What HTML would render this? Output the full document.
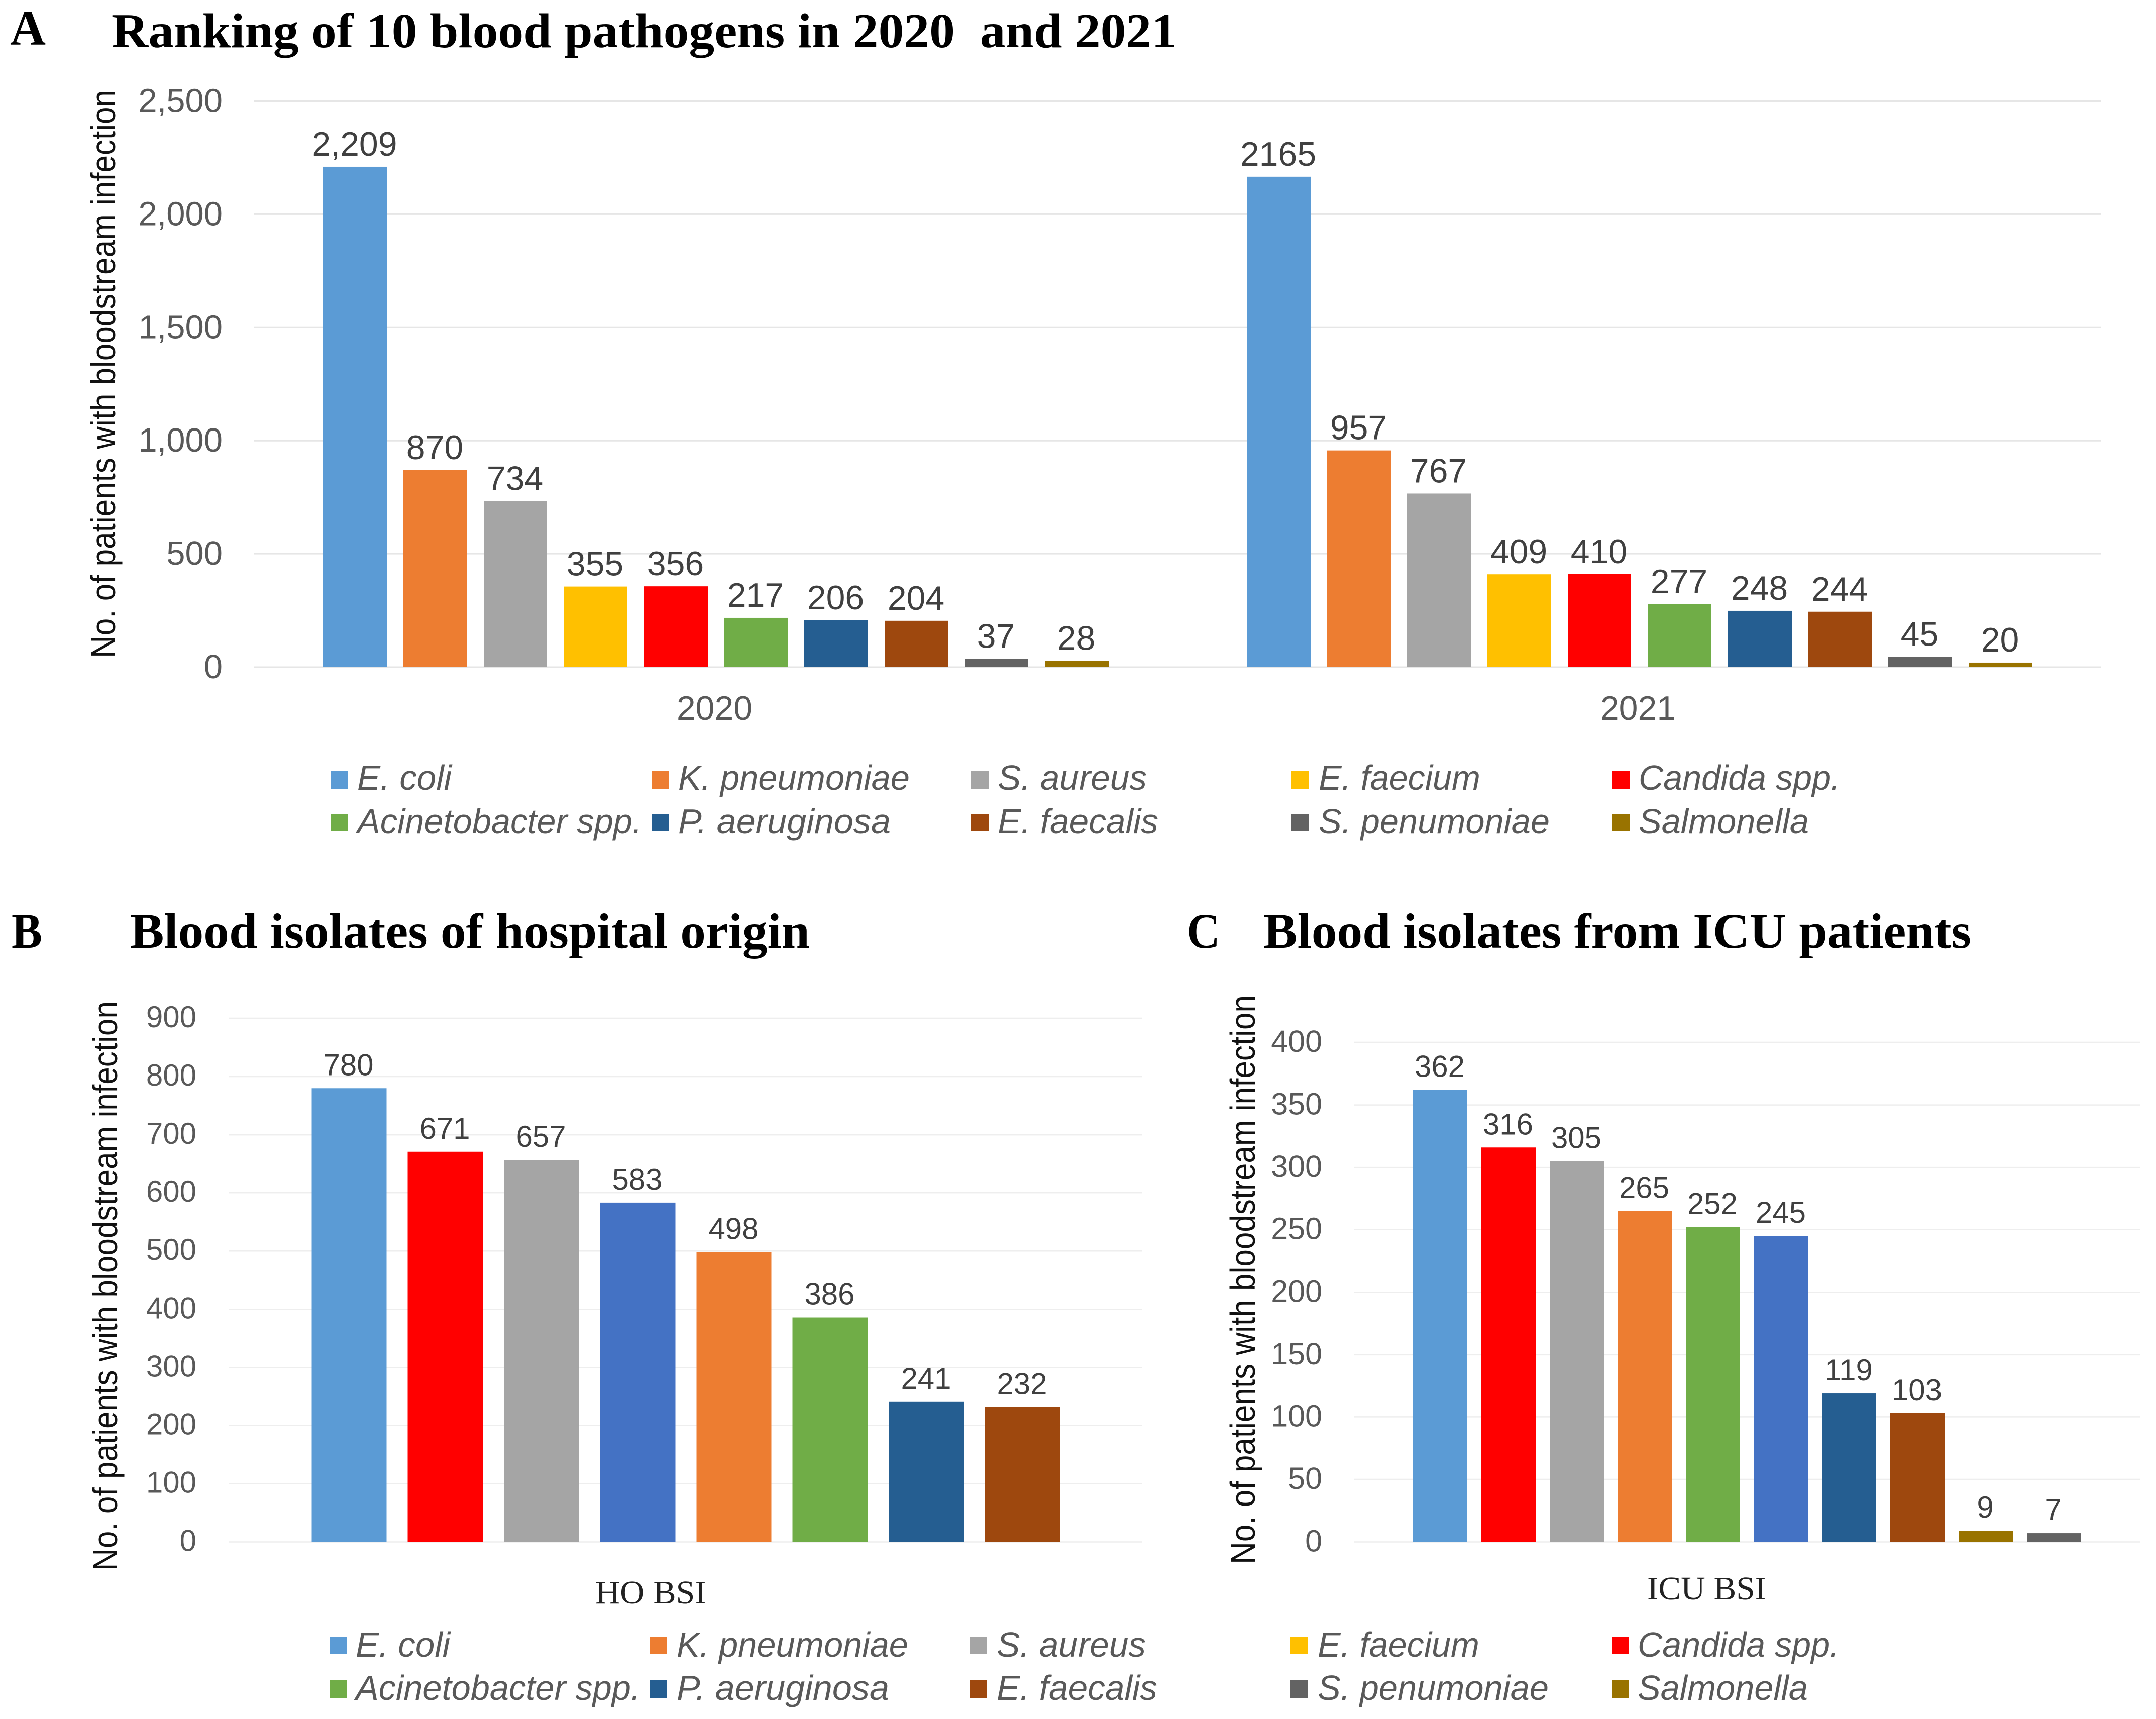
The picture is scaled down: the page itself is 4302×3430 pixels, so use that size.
<!DOCTYPE html>
<html lang="en">
<head>
<meta charset="utf-8">
<title>Blood pathogen rankings</title>
<style>
html,body{margin:0;padding:0;background:#fff;}
body{width:4302px;height:3430px;overflow:hidden;}
svg{display:block;}
.serif{font-family:"Liberation Serif",serif;}
.sans{font-family:"Liberation Sans",sans-serif;}
.ttl{font-family:"Liberation Serif",serif;font-weight:700;font-size:100px;fill:#000;white-space:pre;}
.leg{font-family:"Liberation Sans",sans-serif;font-style:italic;font-size:70px;fill:#595959;}
.axt{font-family:"Liberation Sans",sans-serif;font-size:70px;fill:#111;}
</style>
</head>
<body>
<svg id="figure" xmlns="http://www.w3.org/2000/svg" width="4302" height="3430" viewBox="0 0 4302 3430">
  <rect width="4302" height="3430" fill="#fff"/>

  <text class="ttl" x="20" y="89" textLength="71" lengthAdjust="spacingAndGlyphs">A</text>
  <text class="ttl" x="223" y="94" xml:space="preserve" textLength="2125" lengthAdjust="spacingAndGlyphs" style="font-size:97px">Ranking of 10 blood pathogens in 2020  and 2021</text>
  <text class="ttl" x="23" y="1891" textLength="61" lengthAdjust="spacingAndGlyphs">B</text>
  <text class="ttl" x="260" y="1891" textLength="1356" lengthAdjust="spacingAndGlyphs">Blood isolates of hospital origin</text>
  <text class="ttl" x="2368" y="1891" textLength="67" lengthAdjust="spacingAndGlyphs">C</text>
  <text class="ttl" x="2521" y="1891" textLength="1412" lengthAdjust="spacingAndGlyphs">Blood isolates from ICU patients</text>

  <text class="axt" transform="translate(230 1313) rotate(-90)" textLength="1134" lengthAdjust="spacingAndGlyphs">No. of patients with bloodstream infection</text>
  <text class="axt" transform="translate(234 3134) rotate(-90)" textLength="1136" lengthAdjust="spacingAndGlyphs">No. of patients with bloodstream infection</text>
  <text class="axt" transform="translate(2504 3121) rotate(-90)" textLength="1135" lengthAdjust="spacingAndGlyphs">No. of patients with bloodstream infection</text>

  <g id="panel-a"></g>
  <g id="panel-b"></g>
  <g id="panel-c"></g>

  <text class="serif" x="1188" y="3199" font-size="66" fill="#222" textLength="221" lengthAdjust="spacingAndGlyphs">HO BSI</text>
  <text class="serif" x="3287" y="3191" font-size="66" fill="#222" textLength="237" lengthAdjust="spacingAndGlyphs">ICU BSI</text>

  <g>
    <g><rect x="660" y="1539" width="35" height="35" fill="#5B9BD5"/><text class="leg" x="713" y="1576" textLength="188" lengthAdjust="spacingAndGlyphs">E. coli</text></g>
    <g><rect x="1300" y="1539" width="35" height="35" fill="#ED7D31"/><text class="leg" x="1353" y="1576" textLength="462" lengthAdjust="spacingAndGlyphs">K. pneumoniae</text></g>
    <g><rect x="1938" y="1539" width="35" height="35" fill="#A5A5A5"/><text class="leg" x="1991" y="1576" textLength="297" lengthAdjust="spacingAndGlyphs">S. aureus</text></g>
    <g><rect x="2577" y="1539" width="35" height="35" fill="#FFC000"/><text class="leg" x="2631" y="1576" textLength="323" lengthAdjust="spacingAndGlyphs">E. faecium</text></g>
    <g><rect x="3217" y="1539" width="35" height="35" fill="#FF0000"/><text class="leg" x="3270" y="1576" textLength="402" lengthAdjust="spacingAndGlyphs">Candida spp.</text></g>
    <g><rect x="660" y="1624" width="35" height="35" fill="#70AD47"/><text class="leg" x="713" y="1663" textLength="568" lengthAdjust="spacingAndGlyphs">Acinetobacter spp.</text></g>
    <g><rect x="1300" y="1624" width="35" height="35" fill="#255E91"/><text class="leg" x="1353" y="1663" textLength="424" lengthAdjust="spacingAndGlyphs">P. aeruginosa</text></g>
    <g><rect x="1938" y="1624" width="35" height="35" fill="#9E480E"/><text class="leg" x="1991" y="1663" textLength="320" lengthAdjust="spacingAndGlyphs">E. faecalis</text></g>
    <g><rect x="2577" y="1624" width="35" height="35" fill="#636363"/><text class="leg" x="2631" y="1663" textLength="461" lengthAdjust="spacingAndGlyphs">S. penumoniae</text></g>
    <g><rect x="3217" y="1624" width="35" height="35" fill="#997300"/><text class="leg" x="3270" y="1663" textLength="339" lengthAdjust="spacingAndGlyphs">Salmonella</text></g>
  </g>

  <g>
    <g><rect x="658" y="3266" width="35" height="35" fill="#5B9BD5"/><text class="leg" x="710" y="3306" textLength="188" lengthAdjust="spacingAndGlyphs">E. coli</text></g>
    <g><rect x="1296" y="3266" width="35" height="35" fill="#ED7D31"/><text class="leg" x="1350" y="3306" textLength="462" lengthAdjust="spacingAndGlyphs">K. pneumoniae</text></g>
    <g><rect x="1935" y="3266" width="35" height="35" fill="#A5A5A5"/><text class="leg" x="1989" y="3306" textLength="297" lengthAdjust="spacingAndGlyphs">S. aureus</text></g>
    <g><rect x="2575" y="3266" width="35" height="35" fill="#FFC000"/><text class="leg" x="2629" y="3306" textLength="323" lengthAdjust="spacingAndGlyphs">E. faecium</text></g>
    <g><rect x="3216" y="3266" width="35" height="35" fill="#FF0000"/><text class="leg" x="3268" y="3306" textLength="402" lengthAdjust="spacingAndGlyphs">Candida spp.</text></g>
    <g><rect x="658" y="3353" width="35" height="35" fill="#70AD47"/><text class="leg" x="710" y="3392" textLength="568" lengthAdjust="spacingAndGlyphs">Acinetobacter spp.</text></g>
    <g><rect x="1296" y="3353" width="35" height="35" fill="#255E91"/><text class="leg" x="1350" y="3392" textLength="424" lengthAdjust="spacingAndGlyphs">P. aeruginosa</text></g>
    <g><rect x="1935" y="3353" width="35" height="35" fill="#9E480E"/><text class="leg" x="1989" y="3392" textLength="320" lengthAdjust="spacingAndGlyphs">E. faecalis</text></g>
    <g><rect x="2575" y="3353" width="35" height="35" fill="#636363"/><text class="leg" x="2629" y="3392" textLength="461" lengthAdjust="spacingAndGlyphs">S. penumoniae</text></g>
    <g><rect x="3216" y="3353" width="35" height="35" fill="#997300"/><text class="leg" x="3268" y="3392" textLength="339" lengthAdjust="spacingAndGlyphs">Salmonella</text></g>
  </g>
</svg>
<script>
// ---- Data ----
var pathogensA = ['E. coli','K. pneumoniae','S. aureus','E. faecium','Candida spp.','Acinetobacter spp.','P. aeruginosa','E. faecalis','S. penumoniae','Salmonella'];
var values2020 = [2209,870,734,355,356,217,206,204,37,28];
var values2021 = [2165,957,767,409,410,277,248,244,45,20];
var yearsA = ['2020','2021'];
var ticksA = [0,500,1000,1500,2000,2500];
var tickLabelsA = ['0','500','1,000','1,500','2,000','2,500'];

var pathogensB = ['E. coli','Candida spp.','S. aureus','E. faecium','K. pneumoniae','Acinetobacter spp.','P. aeruginosa','E. faecalis'];
var valuesB = [780,671,657,583,498,386,241,232];
var ticksB = [0,100,200,300,400,500,600,700,800,900];

var pathogensC = ['E. coli','Candida spp.','S. aureus','K. pneumoniae','Acinetobacter spp.','E. faecium','P. aeruginosa','E. faecalis','Salmonella','S. penumoniae'];
var valuesC = [362,316,305,265,252,245,119,103,9,7];
var ticksC = [0,50,100,150,200,250,300,350,400];

// ---- Styles ----
var colourA = ['#5B9BD5','#ED7D31','#A5A5A5','#FFC000','#FF0000','#70AD47','#255E91','#9E480E','#636363','#997300'];
var colourB = ['#5B9BD5','#FF0000','#A5A5A5','#4472C4','#ED7D31','#70AD47','#255E91','#9E480E'];
var colourC = ['#5B9BD5','#FF0000','#A5A5A5','#ED7D31','#70AD47','#4472C4','#255E91','#9E480E','#997300','#636363'];

var NS = 'http://www.w3.org/2000/svg';
function make(parent, tag, attrs, content) {
  var el = document.createElementNS(NS, tag);
  for (var k in attrs) el.setAttribute(k, attrs[k]);
  if (content !== undefined) el.textContent = content;
  parent.appendChild(el);
  return el;
}
function slug(s) { return s.toLowerCase().replace(/[^a-z0-9]+/g, '-').replace(/-+$/, ''); }

function linearY(y0, yMax, max) { return function (v) { return y0 - v * (y0 - yMax) / max; }; }

function drawGrid(g, panel, y, ticks, labels, x1, x2, labelX, fs, dy, gridColour, sw) {
  ticks.forEach(function (t, i) {
    var line = make(g, 'line', {x1: x1, x2: x2, y1: y(t), y2: y(t), stroke: gridColour, 'stroke-width': sw});
    
    
    var label = make(g, 'text', {x: labelX, y: y(t) + dy, 'text-anchor': 'end', 'font-size': fs, fill: '#595959', 'class': 'sans'}, labels[i]);
    
    
  });
}

function drawBars(g, panel, y, y0, names, values, colours, fmt, start, step, width, fs, gap) {
  values.forEach(function (v, i) {
    var x = start + i * step;
    var top = y(v);
    var bar = make(g, 'rect', {x: x, y: top, width: width, height: y0 - top, fill: colours[i]});
    
    
    var label = make(g, 'text', {x: x + width / 2 - 1, y: top - gap, 'text-anchor': 'middle', 'font-size': fs, fill: '#404040', 'class': 'sans'}, fmt(v));
    
    
  });
}

function plain(v) { return String(v); }
function grouped(v) { return v.toLocaleString('en-US'); }

// ---- Panel A ----
var gA = document.getElementById('panel-a');
var yA = linearY(1331, 201.5, 2500);
drawGrid(gA, 'panel-a', yA, ticksA, tickLabelsA, 507, 4193, 444, 67, 22, '#E6E6E6', 3);
var bandA = (4193 - 507) / yearsA.length;
function clusterStartA(i) { return 507 + bandA * (i + 0.5) - (160 * 9 + 127) / 2; }
drawBars(gA, 'panel-a-2020', yA, 1330, pathogensA, values2020, colourA, grouped, clusterStartA(0), 160, 127, 68, 22);
drawBars(gA, 'panel-a-2021', yA, 1330, pathogensA, values2021, colourA, plain, clusterStartA(1), 160, 127, 68, 22);
yearsA.forEach(function (yr, i) {
  var t = make(gA, 'text', {x: 507 + bandA * (i + 0.5) - 3, y: 1436, 'text-anchor': 'middle', 'font-size': 68, fill: '#595959', 'class': 'sans'}, yr);
  
  
});

// ---- Panel B ----
var gB = document.getElementById('panel-b');
var yB = linearY(3076.5, 2032, 900);
drawGrid(gB, 'panel-b', yB, ticksB, ticksB.map(String), 456, 2279, 392, 60, 18, '#EEEEEE', 2.5);
drawBars(gB, 'panel-b', yB, 3076.5, pathogensB, valuesB, colourB, plain, 1367.5 - (192 * 7 + 150) / 2 + 1, 192, 150, 60, 26);

// ---- Panel C ----
var gC = document.getElementById('panel-c');
var yC = linearY(3076.5, 2080, 400);
drawGrid(gC, 'panel-c', yC, ticksC, ticksC.map(String), 2702, 4270, 2638, 61, 19, '#EEEEEE', 2.5);
drawBars(gC, 'panel-c', yC, 3076.5, pathogensC, valuesC, colourC, plain, 3486 - (136 * 9 + 108) / 2, 136, 108, 60, 26);
</script>
</body>
</html>
